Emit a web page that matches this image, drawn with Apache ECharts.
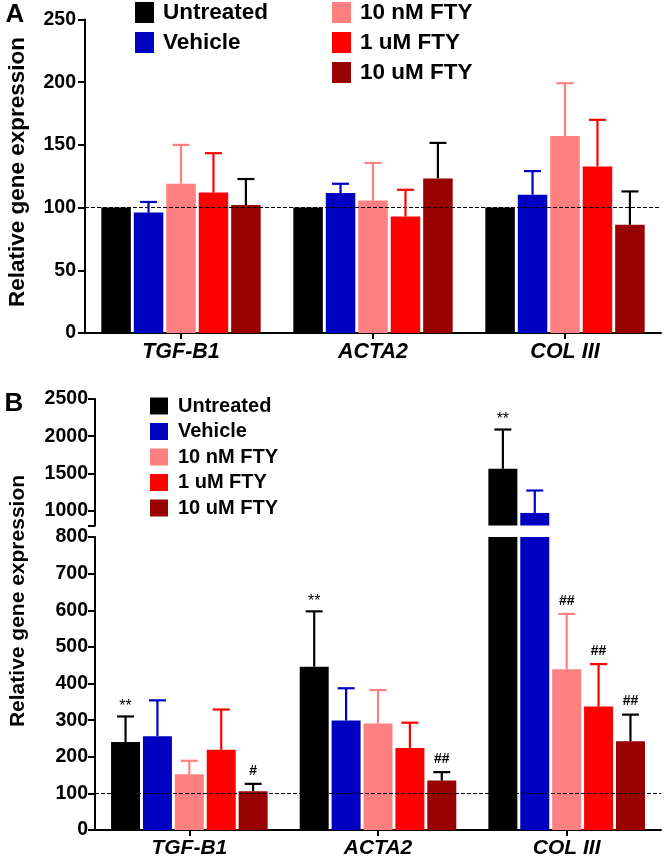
<!DOCTYPE html>
<html><head><meta charset="utf-8">
<script src="https://cdn.jsdelivr.net/npm/echarts@6/dist/echarts.min.js"></script>
<style>html,body{margin:0;padding:0;background:#fff}#c{width:667px;height:859px}</style>
</head><body><div id="c"></div>
<script>
const categories = ['TGF-B1', 'ACTA2', 'COL III'];
const seriesNames = ['Untreated', 'Vehicle', '10 nM FTY', '1 uM FTY', '10 uM FTY'];
const barColors = ['#000000', '#0000C0', '#FF8080', '#FF0000', '#990000'];
const errColors = ['#000000', '#0000C0', '#FF8080', '#FF0000', '#000000'];

// Panel A: means
const aUntreated = [100, 100, 100];
const aVehicle = [96, 111.6, 110.3];
const a10nM = [119, 105.6, 157];
const a1uM = [112, 93, 132.8];
const a10uM = [102, 123.3, 86.3];
// Panel A: upper error (SEM)
const aUntreatedErr = [0, 0, 0];
const aVehicleErr = [8.5, 7.4, 18.8];
const a10nMErr = [31, 30, 42.2];
const a1uMErr = [31.4, 21.2, 37.2];
const a10uMErr = [20.8, 28.3, 26.6];

// Panel B: means
const bUntreated = [240, 446, 1563];
const bVehicle = [256, 299, 969];
const b10nM = [152, 291, 439];
const b1uM = [219, 224, 337];
const b10uM = [106, 135, 242];
// Panel B: upper error (SEM)
const bUntreatedErr = [70, 151, 527];
const bVehicleErr = [98, 88, 301];
const b10nMErr = [37, 91, 151];
const b1uMErr = [110, 69, 116];
const b10uMErr = [20, 23, 73];
// Panel B: significance marks
const bUntreatedSig = ['**', '**', '**'];
const bVehicleSig = ['', '', ''];
const b10nMSig = ['', '', '##'];
const b1uMSig = ['', '', '##'];
const b10uMSig = ['#', '##', '##'];

const aTicks = [0, 50, 100, 150, 200, 250];
const bLowerTicks = [0, 100, 200, 300, 400, 500, 600, 700, 800];
const bUpperTicks = [1000, 1500, 2000, 2500];
const refLine = 100;

const aMeans = [aUntreated, aVehicle, a10nM, a1uM, a10uM];
const aErrs = [aUntreatedErr, aVehicleErr, a10nMErr, a1uMErr, a10uMErr];
const bMeans = [bUntreated, bVehicle, b10nM, b1uM, b10uM];
const bErrs = [bUntreatedErr, bVehicleErr, b10nMErr, b1uMErr, b10uMErr];
const bSigs = [bUntreatedSig, bVehicleSig, b10nMSig, b1uMSig, b10uMSig];

const FONT = '"Liberation Sans", Arial, Helvetica, sans-serif';
const CAT_GAP = 0.17, BAR_GAP = 0.10, N = 5, CAP_W = 17;

function centerOffset(bandW, s) {
  const remained = bandW - bandW * CAT_GAP;
  const w = remained / (N + (N - 1) * BAR_GAP);
  const total = N * w + (N - 1) * w * BAR_GAP;
  return -total / 2 + s * w * (1 + BAR_GAP) + w / 2;
}

function errSeries(name, xi, yi, means, errs, sigs, lo, hi, withRef) {
  const items = [];
  const data = [];
  for (let s = 0; s < N; s++) {
    for (let c = 0; c < categories.length; c++) {
      data.push([c, means[s][c], errs[s][c], s]);
      items.push(sigs ? sigs[s][c] : '');
    }
  }
  const ser = {
    type: 'custom', name: name, xAxisIndex: xi, yAxisIndex: yi, z: 5, silent: true,
    data: data, encode: { x: 0, y: 1 },
    renderItem: function (params, api) {
      const c = api.value(0), m = api.value(1), e = api.value(2), s = api.value(3);
      if (m < lo || m > hi) return null;
      const bandW = api.size([1, 0])[0];
      const base = api.coord([c, m]);
      const x = base[0] + centerOffset(bandW, s);
      const yTop = api.coord([c, m + e])[1];
      const col = errColors[s];
      const children = [];
      if (e > 0) {
        children.push({ type: 'line', shape: { x1: x, y1: base[1], x2: x, y2: yTop }, style: { stroke: col, lineWidth: 2.2 } });
        children.push({ type: 'line', shape: { x1: x - CAP_W / 2, y1: yTop, x2: x + CAP_W / 2, y2: yTop }, style: { stroke: col, lineWidth: 2.2 } });
      }
      const sig = items[params.dataIndex];
      if (sig) {
        const star = sig.indexOf('*') >= 0;
        children.push({ type: 'text', style: { x: x, y: yTop - (star ? 2 : 6), text: sig, align: 'center', verticalAlign: 'bottom', fill: '#000', font: (star ? 'normal 16px ' : 'bold 14px ') + FONT } });
      }
      return { type: 'group', children: children };
    }
  };
  if (withRef) {
    ser.markLine = { silent: true, symbol: ['none', 'none'], label: { show: false }, animation: false,
      lineStyle: { color: '#000', type: [4, 2], width: 1 }, data: [{ yAxis: refLine }] };
  }
  return ser;
}

function barSeries(xi, yi, means, filter) {
  return means.map((vals, s) => ({
    type: 'bar', name: seriesNames[s], xAxisIndex: xi, yAxisIndex: yi,
    barCategoryGap: (CAT_GAP * 100) + '%', barGap: (BAR_GAP * 100) + '%',
    itemStyle: { color: barColors[s] }, silent: true,
    data: filter ? vals.map(v => filter(v) ? v : '-') : vals.slice()
  }));
}

const axisLineStyle = { show: true, lineStyle: { color: '#000', width: 2 } };
function xAxis(gi, show, fs) {
  return {
    type: 'category', gridIndex: gi, data: categories, show: show,
    axisLine: axisLineStyle,
    axisTick: { show: true, alignWithLabel: true, length: 6, lineStyle: { color: '#000', width: 2 } },
    axisLabel: { margin: 8, color: '#000', fontSize: fs, fontWeight: 'bold', fontStyle: 'italic', fontFamily: FONT },
    splitLine: { show: false }
  };
}
function yAxis(gi, min, max, interval, labelVals, tickVals, margin) {
  const ax = {
    type: 'value', gridIndex: gi, min: min, max: max,
    axisLine: axisLineStyle,
    axisTick: { show: true, length: 7, lineStyle: { color: '#000', width: 2 } },
    axisLabel: { margin: margin, color: '#000', fontSize: 19.5, fontWeight: 'bold', fontFamily: FONT, formatter: v => String(v) },
    splitLine: { show: false }
  };
  if (interval) ax.interval = interval;
  if (labelVals) { ax.axisLabel.customValues = labelVals; ax.axisTick.customValues = tickVals; }
  return ax;
}

const chart = echarts.init(document.getElementById('c'), null, { renderer: 'canvas' });
const option = {
  animation: false,
  backgroundColor: '#fff',
  grid: [
    { left: 85, top: 19.5, width: 576, height: 313.5, containLabel: false, outerBoundsMode: 'none' },
    { left: 95, top: 537, width: 566, height: 293, containLabel: false, outerBoundsMode: 'none' },
    { left: 95, top: 399, width: 566, height: 126.5, containLabel: false, outerBoundsMode: 'none' }
  ],
  xAxis: [xAxis(0, true, 21.5), xAxis(1, true, 21), xAxis(2, false, 21)],
  yAxis: [
    yAxis(0, aTicks[0], aTicks[aTicks.length - 1], aTicks[1] - aTicks[0], null, null, 9),
    yAxis(1, bLowerTicks[0], bLowerTicks[bLowerTicks.length - 1], bLowerTicks[1] - bLowerTicks[0], null, null, 7),
    yAxis(2, bLowerTicks[bLowerTicks.length - 1], bUpperTicks[bUpperTicks.length - 1], null, bUpperTicks, [bLowerTicks[bLowerTicks.length - 1]].concat(bUpperTicks), 7)
  ],
  legend: [
    { data: seriesNames.slice(0, 2), left: 135, top: 1, orient: 'vertical', itemWidth: 19, itemHeight: 21, itemGap: 7, padding: 0, icon: 'rect', selectedMode: false,
      textStyle: { fontSize: 22.5, fontWeight: 'bold', color: '#000', fontFamily: FONT, padding: [0, 0, 0, 4] } },
    { data: seriesNames.slice(2), left: 332, top: 1, orient: 'vertical', itemWidth: 19, itemHeight: 21, itemGap: 7, padding: 0, icon: 'rect', selectedMode: false,
      textStyle: { fontSize: 22.5, fontWeight: 'bold', color: '#000', fontFamily: FONT, padding: [0, 0, 0, 4] } },
    { data: seriesNames, left: 150, top: 396, orient: 'vertical', itemWidth: 18, itemHeight: 17, itemGap: 5.5, padding: 0, icon: 'rect', selectedMode: false,
      textStyle: { fontSize: 20, fontWeight: 'bold', color: '#000', fontFamily: FONT, padding: [0, 0, 0, 5] } }
  ],
  graphic: [
    { type: 'text', x: 15, y: 15, style: { text: 'A', align: 'center', verticalAlign: 'middle', font: 'bold 26px ' + FONT, fill: '#000' } },
    { type: 'text', x: 14, y: 404, style: { text: 'B', align: 'center', verticalAlign: 'middle', font: 'bold 26px ' + FONT, fill: '#000' } },
    { type: 'text', x: 18, y: 172, rotation: Math.PI / 2, style: { text: 'Relative gene expression', align: 'center', verticalAlign: 'middle', font: 'bold 22.5px ' + FONT, fill: '#000' } },
    { type: 'text', x: 18, y: 601, rotation: Math.PI / 2, style: { text: 'Relative gene expression', align: 'center', verticalAlign: 'middle', font: 'bold 21px ' + FONT, fill: '#000' } }
  ],
  series: [].concat(
    barSeries(0, 0, aMeans, null),
    [errSeries('errA', 0, 0, aMeans, aErrs, null, 0, 250, true)],
    barSeries(1, 1, bMeans, null),
    [errSeries('errBlow', 1, 1, bMeans, bErrs, bSigs, 0, 800, true)],
    barSeries(2, 2, bMeans, v => v > 800),
    [errSeries('errBup', 2, 2, bMeans, bErrs, bSigs, 800, 2500, false)]
  )
};
chart.setOption(option);
</script>
</body></html>
